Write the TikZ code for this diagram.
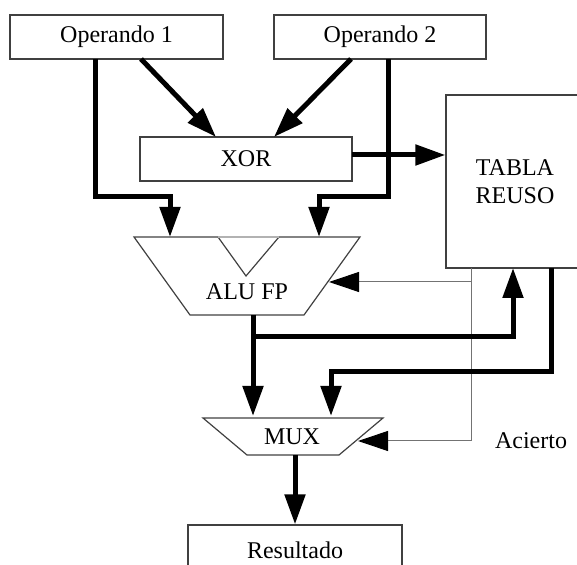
\documentclass[tikz,border=0pt]{standalone}
\usepackage{fontspec}
\setmainfont{Liberation Serif}
\usetikzlibrary{arrows.meta}

\tikzset{
  bloque/.style={draw=black!75, line width=0.6pt, inner sep=0pt},
  forma/.style={draw=black!75, line width=0.6pt},
  bus/.style={line width=2.5pt, -{Triangle[length=15pt,width=10pt]}},
  ctrl/.style={draw=black!55, line width=0.5pt, -{Triangle[length=15pt,width=10pt,color=black]}},
}

\begin{document}
\begin{tikzpicture}[x=0.5pt, y=-0.5pt, font=\fontsize{12}{14}\selectfont]
    \clip (0,0) rectangle (577,565);

    % bloques
    \node[bloque, minimum width=106.5pt, minimum height=22pt] (op1) at (116.5,37) {Operando 1};
    \node[bloque, minimum width=106pt, minimum height=22pt] (op2) at (380,37) {Operando 2};
    \node[bloque, minimum width=106pt, minimum height=22pt] (xor) at (246,159) {XOR};
    \node[bloque, minimum width=69pt, minimum height=86.5pt, align=center] (tabla) at (515,181.5) {TABLA\\REUSO};
    \node[bloque, minimum width=107pt, minimum height=25pt] (res) at (295,550) {Resultado};

    % ALU y MUX
    \draw[forma] (134,237) -- (218,237) -- (246,276) -- (279,237) -- (360,237)
        -- (304,315) -- (190,315) -- cycle;
    \draw[black!30, line width=0.6pt] (218,237) -- (279,237);
    \node (alu) at (247,292) {ALU FP};
    \draw[forma] (203,418) -- (383,418) -- (339,455) -- (247,455) -- cycle;
    \node (mux) at (292,437) {MUX};
    \node[anchor=west] (acierto) at (488,441) {Acierto};

    % puertos
    \coordinate (op1-a) at (95,59);
    \coordinate (op1-b) at (141,59);
    \coordinate (op2-a) at (351,59);
    \coordinate (op2-b) at (388,59);
    \coordinate (xor-a) at (216,137);
    \coordinate (xor-b) at (274,137);
    \coordinate (xor-out) at (352,155);
    \coordinate (alu-a) at (170,237);
    \coordinate (alu-b) at (319,237);
    \coordinate (alu-c) at (329,282);
    \coordinate (alu-out) at (253,315);
    \coordinate (rama) at (253,337);
    \coordinate (tabla-in) at (513,268);
    \coordinate (tabla-out) at (551,268);
    \coordinate (tabla-ctrl) at (471,268);
    \coordinate (mux-a) at (253,416);
    \coordinate (mux-b) at (331,416);
    \coordinate (mux-c) at (358,441);
    \coordinate (mux-out) at (295,455);

    % conexiones
    \draw[bus] (op1-b) -- (xor-a);
    \draw[bus] (op2-a) -- (xor-b);
    \draw[bus] (op1-a) -- ++(0,138) -| (alu-a);
    \draw[bus] (op2-b) -- ++(0,138) -| (alu-b);
    \draw[bus] (xor-out) -- (xor-out -| tabla.west);
    \draw[ctrl] (tabla-ctrl |- alu-c) -- (alu-c);
    \draw[ctrl] (tabla-ctrl) |- (mux-c);
    \draw[bus] (alu-out) -- (mux-a);
    \draw[bus] (rama) -| (tabla-in);
    \draw[bus] (tabla-out) -- ++(0,104) -| (mux-b);
    \draw[bus] (mux-out) -- (mux-out |- res.north);
\end{tikzpicture}
\end{document}
